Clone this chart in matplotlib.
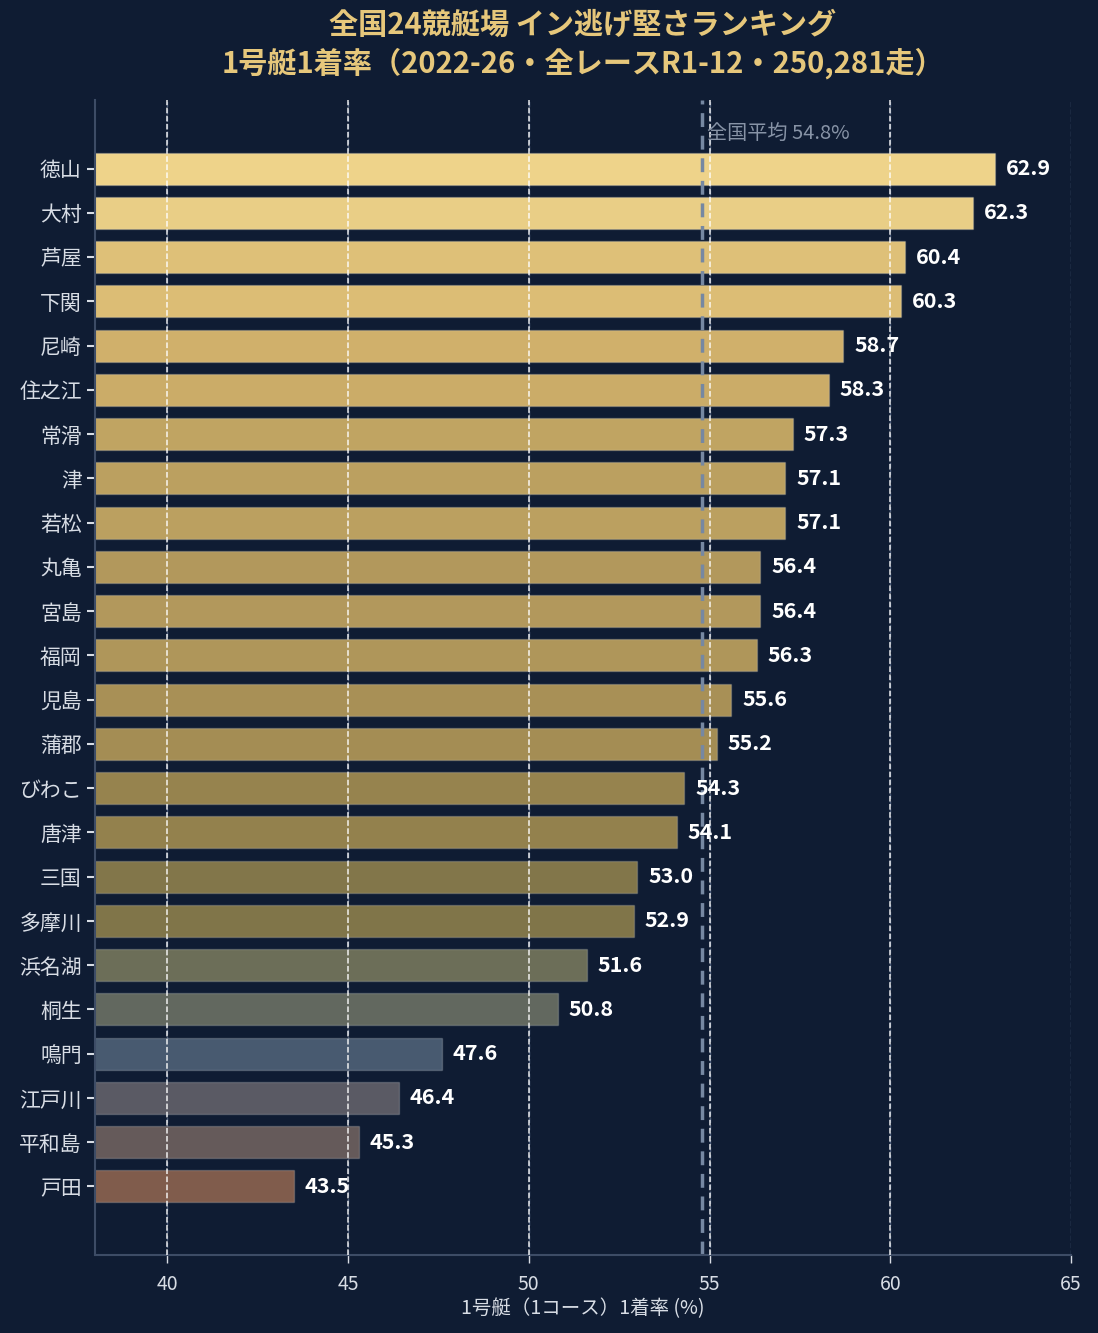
import matplotlib.pyplot as plt

plt.rcParams['font.family'] = ['Noto Sans CJK JP', 'DejaVu Sans']

# data (top to bottom)
venues = ["徳山", "大村", "芦屋", "下関", "尼崎", "住之江", "常滑", "津", "若松",
          "丸亀", "宮島", "福岡", "児島", "蒲郡", "びわこ", "唐津", "三国", "多摩川",
          "浜名湖", "桐生", "鳴門", "江戸川", "平和島", "戸田"]
win_rate = [62.9, 62.3, 60.4, 60.3, 58.7, 58.3, 57.3, 57.1, 57.1,
            56.4, 56.4, 56.3, 55.6, 55.2, 54.3, 54.1, 53.0, 52.9,
            51.6, 50.8, 47.6, 46.4, 45.3, 43.5]
national_avg = 54.8
x_ticks = [40, 45, 50, 55, 60, 65]

bar_colors = ["#eed38a", "#e9ce86", "#dec078", "#dcbd75", "#d0b06b", "#cbac68",
              "#c0a462", "#bba060", "#bba060", "#b2985c", "#b2985c", "#af965a",
              "#a89056", "#a48d54", "#96834e", "#93814d", "#82764a", "#807549",
              "#6c6e58", "#62685f", "#485a70", "#5a5a64", "#655a5a", "#805c4c"]

BG = "#0f1c33"
GOLD = "#e6c77b"
TXT = "#d8dde5"

fig, ax = plt.subplots(figsize=(10.98, 13.33), dpi=100)
fig.patch.set_facecolor(BG)
ax.set_facecolor(BG)
fig.subplots_adjust(left=0.0865, right=0.9755, top=0.925, bottom=0.0585)

ypos = list(range(len(venues)))
ax.grid(axis="x", color="#4a5a78", linestyle="--", linewidth=1, zorder=0)
ax.barh(ypos, win_rate, height=0.72, color=bar_colors,
        edgecolor=(1, 1, 1, 0.18), linewidth=1, zorder=2)

for x in x_ticks[:-1]:
    ax.axvline(x, color="white", linestyle="--", linewidth=1.1, alpha=0.9, zorder=3)
ax.axvline(national_avg, color="#7688a2", linestyle="--", linewidth=2.5,
           dashes=(4, 2.5), zorder=2.5)
ax.text(national_avg + 0.12, -0.8, f"全国平均 {national_avg}%", color="#8793a6",
        fontsize=14.5, va="center", ha="left", zorder=4)

for y, v in zip(ypos, win_rate):
    ax.text(v + 0.3, y, f"{v:.1f}", color="white", fontsize=15.5, fontweight="bold",
            va="center", ha="left", zorder=5)

ax.set_xlim(38, 65)
ax.set_ylim(len(venues) + 0.55, -1.55)
ax.set_yticks(ypos)
ax.set_yticklabels(venues)
ax.set_xticks(x_ticks)
ax.tick_params(axis="y", colors=TXT, labelsize=15, length=6, width=1.5)
ax.tick_params(axis="x", colors=TXT, labelsize=14, length=6, width=1, pad=8)
for s in ["top", "right"]:
    ax.spines[s].set_visible(False)
for s in ["left", "bottom"]:
    ax.spines[s].set_color("#3d4c66")
    ax.spines[s].set_linewidth(1.5)

ax.set_xlabel("1号艇（1コース）1着率 (%)", color=TXT, fontsize=14, labelpad=2)
ax.set_title("全国24競艇場 イン逃げ堅さランキング\n1号艇1着率（2022-26・全レースR1-12・250,281走）",
             color=GOLD, fontsize=21, fontweight="bold", pad=20, linespacing=1.3)

fig.savefig("out.png", dpi=100, facecolor=BG)
